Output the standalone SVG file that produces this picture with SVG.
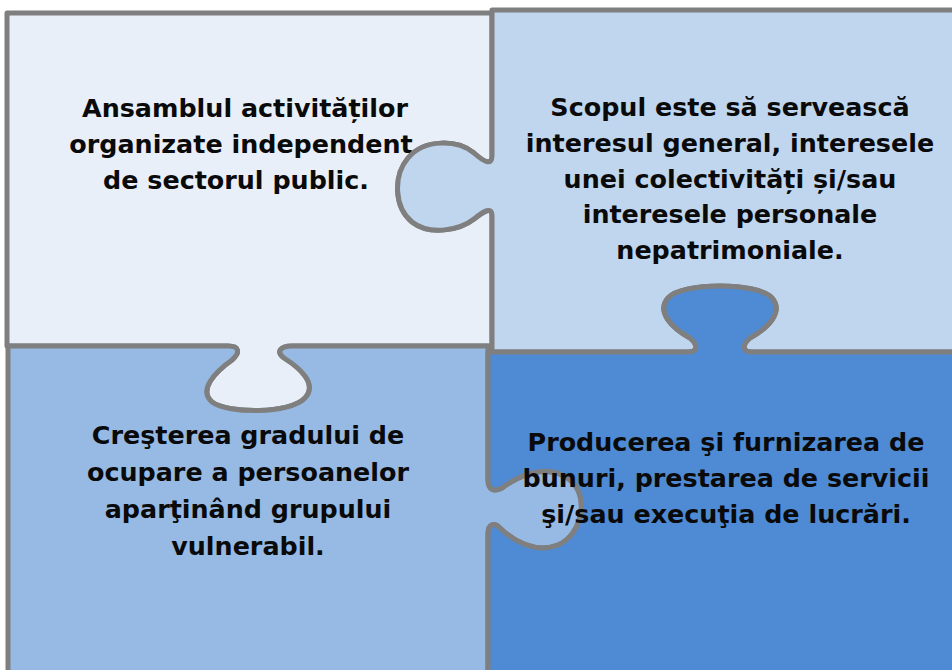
<svg xmlns="http://www.w3.org/2000/svg" width="952" height="670" viewBox="0 0 952 670">
<style>
.piece{stroke:#7f7f7f;stroke-width:5;stroke-linejoin:round}
.t{font-family:"DejaVu Sans","Verdana",sans-serif;font-weight:bold;font-size:25.4px;fill:#0a0a0a;text-anchor:middle}
</style>
<rect width="952" height="670" fill="#ffffff"/>
<g id="piece-tl">
<path class="piece" fill="#e8eff8" d="M7,13 H492 V156 C492,166 484,162 474,153 C458,140 425,138 408,158 C393,176 394,207 412,222 C430,236 460,230 474,219 C484,211 492,206 492,216 L492,346 L292,346 C280,346 276,352 284,358 C300,368 318,384 305,398 C290,414 228,414 212,402 C198,390 215,372 232,360 C240,353 240,346 228,346 L7,346 Z"/>
<text class="t" x="245" y="117">Ansamblul activităților</text>
<text class="t" x="241" y="153">organizate independent</text>
<text class="t" x="236" y="189">de sectorul public.</text>
</g>
<g id="piece-tr">
<path class="piece" fill="#c0d5ee" d="M492,10 H962 V352 L752,352 C743,352 741,346 750,338 C768,328 784,312 772,298 C758,282 682,282 668,298 C656,312 672,328 690,338 C699,346 697,352 688,352 L492,352 L492,216 C492,206 484,211 474,219 C460,230 430,236 412,222 C394,207 393,176 408,158 C425,138 458,140 474,153 C484,162 492,166 492,156 Z"/>
<text class="t" x="730" y="116">Scopul este să servească</text>
<text class="t" x="730" y="152">interesul general, interesele</text>
<text class="t" x="730" y="188">unei colectivități și/sau</text>
<text class="t" x="730" y="223">interesele personale</text>
<text class="t" x="730" y="259">nepatrimoniale.</text>
</g>
<g id="piece-bl">
<path class="piece" fill="#97bae4" d="M8,346 L228,346 C240,346 240,353 232,360 C215,372 198,390 212,402 C228,414 290,414 305,398 C318,384 300,368 284,358 C276,352 280,346 292,346 L488,346 L488,480 C488,490 494,492 502,488 C518,476 548,462 570,480 C590,496 582,535 558,545 C535,554 512,540 500,528 C494,522 488,524 488,534 L488,680 L8,680 Z"/>
<text class="t" x="248" y="444">Creşterea gradului de</text>
<text class="t" x="248" y="481">ocupare a persoanelor</text>
<text class="t" x="248" y="518">aparţinând grupului</text>
<text class="t" x="248" y="555">vulnerabil.</text>
</g>
<g id="piece-br">
<path class="piece" fill="#4f8bd4" d="M488,352 L688,352 C697,352 699,346 690,338 C672,328 656,312 668,298 C682,282 758,282 772,298 C784,312 768,328 750,338 C741,346 743,352 752,352 L962,352 V680 H488 L488,534 C488,524 494,522 500,528 C512,540 535,554 558,545 C582,535 590,496 570,480 C548,462 518,476 502,488 C494,492 488,490 488,480 Z"/>
<text class="t" x="726" y="451">Producerea şi furnizarea de</text>
<text class="t" x="726" y="487">bunuri, prestarea de servicii</text>
<text class="t" x="726" y="523">şi/sau execuţia de lucrări.</text>
</g>
<g id="connectors"></g>
</svg>
